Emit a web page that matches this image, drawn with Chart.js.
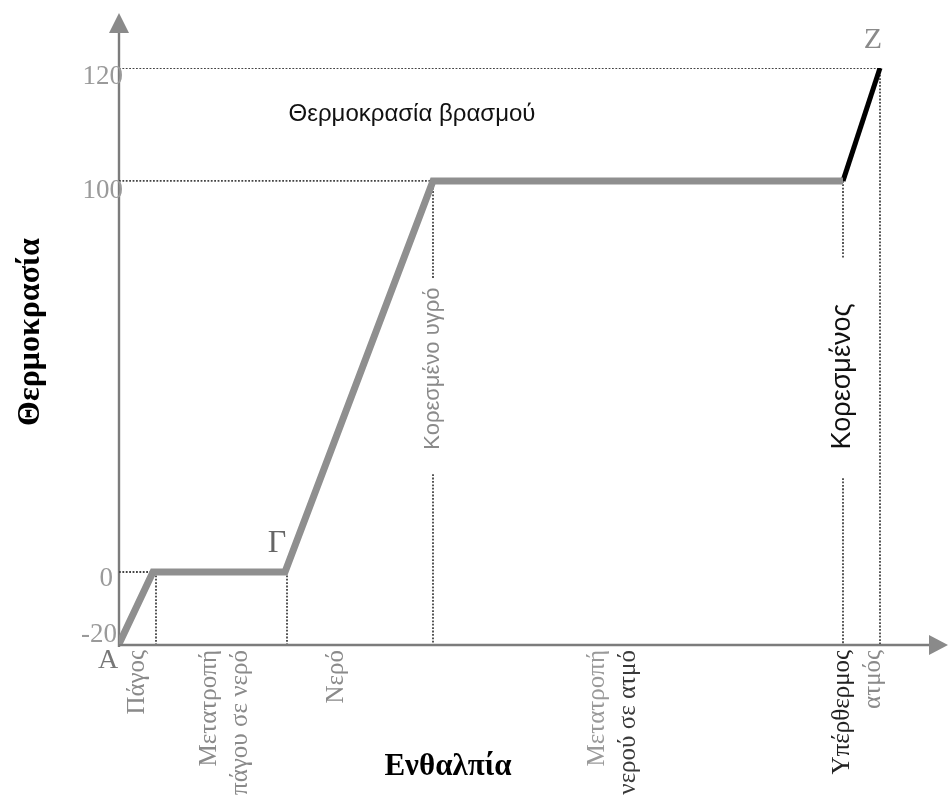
<!DOCTYPE html>
<html>
<head>
<meta charset="utf-8">
<script src="https://cdn.jsdelivr.net/npm/chart.js@4.4.1/dist/chart.umd.min.js"></script>
<style>
html,body{margin:0;padding:0;background:#fff;}
#wrap{width:949px;height:799px;position:relative;}
</style>
</head>
<body>
<div id="wrap"><canvas id="c"></canvas></div>
<script>
// ---------------- DATA ----------------
// Heating curve of water (enthalpy in arbitrary units, temperature in °C)
const curveEnthalpy    = [0, 34, 166, 314, 724];
const curveTemperature = [-20, 0, 0, 100, 100];
const superheatEnthalpy    = [724, 761];
const superheatTemperature = [100, 120];

const yTickValues = [-20, 0, 100, 120];
const yTickLabels = ['-20', '0', '100', '120'];

// dotted guide segments: [x1, y1, x2, y2]
const guideSegments = [
  [0, 120, 761, 120],
  [0, 100, 314, 100],
  [0, 0, 34, 0],
  [37, 0, 37, -20],
  [168, 0, 168, -20],
  [314, 100, 314, 75],
  [314, 25, 314, -20],
  [724, 100, 724, 80],
  [724, 24, 724, -20],
  [761, 120, 761, -20]
];

const phaseLabels = [
  ['Πάγος'],
  ['Μετατροπή', 'πάγου σε νερό'],
  ['Νερό'],
  ['Μετατροπή', 'νερού σε ατμό'],
  ['Υπέρθερμος', 'ατμός']
];
const phaseLabelEnthalpy = [18, 106, 217, 494, 739];

const pointNames = ['Α', 'Γ', 'Ζ'];
const pointNameAt = [[0, -20], [166, 0], [761, 120]];

const boilingText = 'Θερμοκρασία βρασμού';
const satLiquidText = 'Κορεσμένο υγρό';
const satVaporText = 'Κορεσμένος';
const yTitle = 'Θερμοκρασία';
const xTitle = 'Ενθαλπία';

// ---------------- LAYOUT / STYLE ----------------
const yBreakFractions = [0, 0.125, 0.804, 1];   // vertical position of each y tick value
const phaseColors = [['#8a8a8a'], ['#8a8a8a', '#8a8a8a'], ['#8a8a8a'], ['#9a9a9a', '#3a3a3a'], ['#222', '#8a8a8a']];
const tickOffsets = [[-2, -9], [-6, 7], [4, 10], [4, 9]];
const SERIF = '"Liberation Serif", "DejaVu Serif", serif';
const SANS = '"Liberation Sans", Arial, sans-serif';

// piecewise linear value axis (the drawing's temperature axis is not uniform)
class PiecewiseScale extends Chart.LinearScale {
  getPixelForValue(value) {
    if (value === null || value === undefined || isNaN(value)) return NaN;
    const v = yTickValues, f = yBreakFractions;
    let i = 0;
    while (i < v.length - 2 && value > v[i + 1]) i++;
    const t = (value - v[i]) / (v[i + 1] - v[i]);
    return this.getPixelForDecimal(f[i] + t * (f[i + 1] - f[i]));
  }
  getValueForPixel(pixel) {
    const d = this.getDecimalForPixel(pixel);
    const v = yTickValues, f = yBreakFractions;
    let i = 0;
    while (i < f.length - 2 && d > f[i + 1]) i++;
    const t = (d - f[i]) / (f[i + 1] - f[i]);
    return v[i] + t * (v[i + 1] - v[i]);
  }
}
PiecewiseScale.id = 'piecewise';
PiecewiseScale.defaults = Chart.LinearScale.defaults;
Chart.register(PiecewiseScale);

const datasets = [];
datasets.push({
  data: curveEnthalpy.map((x, i) => ({x, y: curveTemperature[i]})),
  borderColor: '#8f8f8f', borderWidth: 7, pointRadius: 0,
  borderJoinStyle: 'miter', borderCapStyle: 'butt', order: 0
});
datasets.push({
  data: superheatEnthalpy.map((x, i) => ({x, y: superheatTemperature[i]})),
  borderColor: '#000', borderWidth: 5, pointRadius: 0, order: 1
});
guideSegments.forEach(s => datasets.push({
  data: [{x: s[0], y: s[1]}, {x: s[2], y: s[3]}],
  borderColor: '#444', borderWidth: 1.8, borderDash: [1.8, 1.6],
  pointRadius: 0, order: 2
}));

function text(ctx, str, x, y, font, color, align, baseline, rot) {
  ctx.save();
  ctx.translate(x, y);
  if (rot) ctx.rotate(rot);
  ctx.font = font;
  ctx.fillStyle = color;
  ctx.textAlign = align || 'center';
  ctx.textBaseline = baseline || 'middle';
  ctx.fillText(str, 0, 0);
  ctx.restore();
}

const overlay = {
  id: 'overlay',
  beforeDatasetsDraw(chart) {
    const ctx = chart.ctx, xs = chart.scales.x, ys = chart.scales.y;
    const ox = xs.getPixelForValue(0), oy = ys.getPixelForValue(-20) + 1;
    ctx.save();
    ctx.strokeStyle = '#7c7c7c';
    ctx.fillStyle = '#8a8a8a';
    ctx.lineWidth = 2.4;
    ctx.beginPath();
    ctx.moveTo(ox, oy + 2); ctx.lineTo(ox, 30);
    ctx.moveTo(ox - 1, oy); ctx.lineTo(932, oy);
    ctx.stroke();
    // arrow heads
    ctx.beginPath();
    ctx.moveTo(ox, 13); ctx.lineTo(ox - 10, 33); ctx.lineTo(ox + 10, 33); ctx.closePath();
    ctx.fill();
    ctx.beginPath();
    ctx.moveTo(948, oy); ctx.lineTo(929, oy - 10); ctx.lineTo(929, oy + 10); ctx.closePath();
    ctx.fill();
    ctx.restore();
  },
  afterDatasetsDraw(chart) {
    const ctx = chart.ctx, xs = chart.scales.x, ys = chart.scales.y;
    const ox = xs.getPixelForValue(0);
    const axisY = ys.getPixelForValue(-20) + 1;
    // tick labels
    yTickValues.forEach((v, i) => {
      text(ctx, yTickLabels[i], ox + tickOffsets[i][0], ys.getPixelForValue(v) + tickOffsets[i][1],
        '27px ' + SERIF, '#9a9a9a', 'right', 'middle');
    });
    // point names
    const pn = [
      {dx: -11, dy: 17, font: '28px ' + SERIF, color: '#777'},
      {dx: -8, dy: -28, font: '32px ' + SERIF, color: '#666'},
      {dx: -7, dy: -28, font: '30px ' + SERIF, color: '#8a8a8a'}
    ];
    pointNames.forEach((n, i) => {
      const px = xs.getPixelForValue(pointNameAt[i][0]), py = ys.getPixelForValue(pointNameAt[i][1]);
      text(ctx, n, px + pn[i].dx, py + pn[i].dy, pn[i].font, pn[i].color, 'center', 'middle');
    });
    // boiling temperature note
    text(ctx, boilingText, xs.getPixelForValue(293), ys.getPixelForValue(111.7),
      '24px ' + SANS, '#111', 'center', 'middle');
    // saturated labels (rotated)
    text(ctx, satLiquidText, xs.getPixelForValue(314), ys.getPixelForValue(52),
      '22px ' + SANS, '#8a8a8a', 'center', 'middle', -Math.PI / 2);
    text(ctx, satVaporText, xs.getPixelForValue(724), ys.getPixelForValue(50),
      '27px ' + SANS, '#111', 'center', 'middle', -Math.PI / 2);
    // phase labels under x axis
    const gap = 31;
    phaseLabels.forEach((lines, i) => {
      const cx = xs.getPixelForValue(phaseLabelEnthalpy[i]);
      lines.forEach((ln, j) => {
        const lx = cx + (j - (lines.length - 1) / 2) * gap;
        text(ctx, ln, lx, axisY + 5, '25px ' + SERIF, phaseColors[i][j], 'right', 'middle', -Math.PI / 2);
      });
    });
    // axis titles
    text(ctx, yTitle, 31, 332, 'bold 32px ' + SERIF, '#000', 'center', 'middle', -Math.PI / 2);
    text(ctx, xTitle, 448, 767, 'bold 31px ' + SERIF, '#000', 'center', 'middle');
  }
};

new Chart(document.getElementById('c'), {
  type: 'line',
  data: {datasets},
  options: {
    responsive: true,
    maintainAspectRatio: false,
    animation: false,
    events: [],
    layout: {padding: {top: 68, right: 1, left: 0, bottom: 0}},
    plugins: {legend: {display: false}, tooltip: {enabled: false}},
    scales: {
      x: {
        type: 'linear', min: 0, max: 829,
        grid: {display: false}, border: {display: false}, ticks: {display: false},
        afterFit(s) { s.height = 155; }
      },
      y: {
        type: 'piecewise', min: -20, max: 120,
        grid: {display: false}, border: {display: false}, ticks: {display: false},
        afterFit(s) { s.width = 119; }
      }
    }
  },
  plugins: [overlay]
});
</script>
</body>
</html>
